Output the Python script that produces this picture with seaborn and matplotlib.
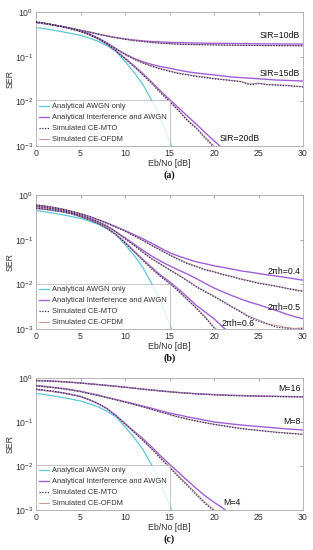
import numpy as np
import pandas as pd
import matplotlib
matplotlib.use("Agg")
import matplotlib.pyplot as plt
import seaborn as sns

# ---------------- data ----------------
ebno = list(range(0, 31))

awgn_only = [0.45, 0.42, 0.39, 0.36, 0.33, 0.30, 0.26, 0.22, 0.175, 0.13, 0.078,
             0.045, 0.024, 0.0105, 0.0042, 0.0013, 0.0004]

# panel (a): SIR
sir_labels = ["SIR=10dB", "SIR=15dB", "SIR=20dB"]
a_ana = [
    [0.58, 0.55, 0.51, 0.47, 0.43, 0.39, 0.355, 0.32, 0.29, 0.268, 0.25, 0.236, 0.226, 0.218,
     0.213, 0.209, 0.206, 0.204, 0.202, 0.200, 0.199, 0.198, 0.197, 0.196, 0.195, 0.194,
     0.193, 0.193, 0.192, 0.192, 0.191],
    [0.58, 0.55, 0.51, 0.47, 0.42, 0.37, 0.32, 0.26, 0.20, 0.15, 0.115, 0.092, 0.077, 0.067,
     0.060, 0.055, 0.050, 0.046, 0.043, 0.041, 0.039, 0.037, 0.035, 0.034, 0.033, 0.032,
     0.031, 0.030, 0.0295, 0.029, 0.0285],
    [0.58, 0.55, 0.51, 0.47, 0.42, 0.37, 0.31, 0.25, 0.19, 0.135, 0.093, 0.063, 0.042,
     0.027, 0.017, 0.011, 0.0072, 0.0047, 0.0031, 0.0020, 0.0013, 0.00088, 0.0006],
]
a_mto = [
    [0.60, 0.56, 0.51, 0.47, 0.43, 0.39, 0.355, 0.32, 0.29, 0.265, 0.245, 0.23, 0.218, 0.208,
     0.200, 0.195, 0.190, 0.188, 0.186, 0.184, 0.183, 0.181, 0.181, 0.179, 0.179, 0.178,
     0.177, 0.177, 0.176, 0.176, 0.175],
    [0.60, 0.56, 0.51, 0.47, 0.42, 0.37, 0.32, 0.26, 0.20, 0.15, 0.112, 0.088, 0.072, 0.061,
     0.053, 0.047, 0.042, 0.039, 0.036, 0.034, 0.032, 0.0305, 0.029, 0.0275, 0.0235, 0.025,
     0.0235, 0.023, 0.0225, 0.0218, 0.021],
    [0.60, 0.56, 0.51, 0.47, 0.42, 0.37, 0.31, 0.25, 0.19, 0.133, 0.09, 0.06, 0.039, 0.025,
     0.0155, 0.0098, 0.0062, 0.0037, 0.0025, 0.0015, 0.00095, 0.0006],
]
a_ofdm = [
    [0.59, 0.55, 0.51, 0.47, 0.43, 0.39, 0.354, 0.32, 0.29, 0.266, 0.246, 0.231, 0.219, 0.209,
     0.201, 0.196, 0.191, 0.189, 0.187, 0.185, 0.184, 0.182, 0.181, 0.180, 0.179, 0.178,
     0.178, 0.177, 0.177, 0.176, 0.176],
    [0.59, 0.55, 0.51, 0.47, 0.42, 0.37, 0.32, 0.26, 0.20, 0.151, 0.113, 0.089, 0.073, 0.062,
     0.054, 0.048, 0.043, 0.040, 0.037, 0.035, 0.0325, 0.031, 0.0295, 0.028, 0.0245, 0.0255,
     0.024, 0.0235, 0.023, 0.022, 0.0215],
    [0.59, 0.55, 0.51, 0.47, 0.42, 0.37, 0.31, 0.25, 0.19, 0.134, 0.091, 0.061, 0.04, 0.026,
     0.016, 0.0102, 0.0064, 0.0039, 0.0026, 0.0016, 0.001, 0.00065],
]

# panel (b): 2*pi*h
h_labels = ["2\u03c0h=0.4", "2\u03c0h=0.5", "2\u03c0h=0.6"]
b_ana = [
    [0.59, 0.56, 0.52, 0.48, 0.43, 0.38, 0.33, 0.28, 0.235, 0.195, 0.16, 0.13, 0.105, 0.083,
     0.065, 0.051, 0.043, 0.037, 0.032, 0.029, 0.026, 0.024, 0.022, 0.020, 0.0188, 0.0175,
     0.0163, 0.0153, 0.0143, 0.0133, 0.0124],
    [0.55, 0.52, 0.49, 0.45, 0.40, 0.35, 0.30, 0.25, 0.20, 0.15, 0.11, 0.08, 0.058, 0.043,
     0.033, 0.026, 0.021, 0.017, 0.0135, 0.0105, 0.0083, 0.0068, 0.0056, 0.0047, 0.004,
     0.0035, 0.003, 0.0026, 0.0022, 0.0019, 0.0017],
    [0.50, 0.48, 0.45, 0.42, 0.38, 0.33, 0.28, 0.23, 0.18, 0.13, 0.088, 0.056, 0.036, 0.024,
     0.016, 0.0115, 0.0078, 0.0052, 0.0034, 0.0024, 0.0017, 0.0011, 0.00075],
]
b_mto = [
    [0.60, 0.57, 0.53, 0.48, 0.43, 0.38, 0.33, 0.28, 0.232, 0.19, 0.155, 0.122, 0.096, 0.074,
     0.058, 0.045, 0.036, 0.029, 0.025, 0.021, 0.019, 0.0165, 0.0148, 0.013, 0.0118, 0.0105,
     0.0098, 0.009, 0.0082, 0.0075, 0.0069],
    [0.56, 0.53, 0.49, 0.45, 0.40, 0.35, 0.30, 0.25, 0.20, 0.148, 0.105, 0.075, 0.052, 0.037,
     0.028, 0.021, 0.016, 0.012, 0.0088, 0.0068, 0.0053, 0.0041, 0.0031, 0.0024, 0.0018,
     0.0015, 0.0013, 0.0011, 0.00105, 0.00098, 0.00102],
    [0.51, 0.48, 0.45, 0.42, 0.38, 0.33, 0.28, 0.23, 0.178, 0.128, 0.085, 0.054, 0.034, 0.022,
     0.0148, 0.0105, 0.007, 0.0045, 0.0029, 0.0018, 0.00105, 0.0007],
]
b_ofdm = [
    [0.59, 0.56, 0.52, 0.48, 0.43, 0.38, 0.33, 0.28, 0.233, 0.191, 0.156, 0.123, 0.097, 0.075,
     0.059, 0.046, 0.037, 0.030, 0.0255, 0.0215, 0.0192, 0.0168, 0.015, 0.0133, 0.012, 0.0108,
     0.0099, 0.0092, 0.0083, 0.0077, 0.0071],
    [0.55, 0.52, 0.49, 0.45, 0.40, 0.35, 0.30, 0.25, 0.20, 0.149, 0.106, 0.076, 0.053, 0.038,
     0.0285, 0.0215, 0.0163, 0.0123, 0.009, 0.007, 0.0055, 0.0042, 0.0032, 0.0025, 0.0019,
     0.0016, 0.0013, 0.0012, 0.0011, 0.00103, 0.00106],
    [0.50, 0.48, 0.45, 0.42, 0.38, 0.33, 0.28, 0.23, 0.179, 0.129, 0.086, 0.055, 0.035, 0.023,
     0.0152, 0.0108, 0.0072, 0.0047, 0.003, 0.0019, 0.0011, 0.00072],
]

# panel (c): modulation order
m_labels = ["M=16", "M=8", "M=4"]
c_ana = [
    [0.88, 0.865, 0.85, 0.825, 0.80, 0.77, 0.74, 0.71, 0.68, 0.65, 0.62, 0.59, 0.56, 0.535,
     0.51, 0.49, 0.47, 0.455, 0.44, 0.43, 0.42, 0.412, 0.405, 0.40, 0.395, 0.39, 0.386,
     0.383, 0.38, 0.378, 0.376],
    [0.68, 0.65, 0.61, 0.58, 0.54, 0.50, 0.45, 0.41, 0.36, 0.325, 0.29, 0.26, 0.23, 0.205,
     0.18, 0.16, 0.145, 0.131, 0.12, 0.11, 0.10, 0.095, 0.09, 0.086, 0.082, 0.079, 0.076,
     0.073, 0.07, 0.068, 0.066],
    [0.55, 0.52, 0.49, 0.46, 0.42, 0.38, 0.32, 0.26, 0.20, 0.14, 0.093, 0.062, 0.042, 0.027,
     0.017, 0.011, 0.0072, 0.0047, 0.0031, 0.0021, 0.0015, 0.0011, 0.00075],
]
c_mto = [
    [0.87, 0.855, 0.84, 0.82, 0.795, 0.765, 0.735, 0.705, 0.675, 0.645, 0.615, 0.585, 0.555,
     0.53, 0.505, 0.485, 0.465, 0.45, 0.435, 0.425, 0.415, 0.407, 0.40, 0.395, 0.39, 0.385,
     0.382, 0.379, 0.376, 0.374, 0.372],
    [0.66, 0.63, 0.60, 0.57, 0.53, 0.49, 0.44, 0.40, 0.355, 0.318, 0.283, 0.25, 0.22, 0.193,
     0.168, 0.148, 0.13, 0.116, 0.105, 0.096, 0.088, 0.082, 0.076, 0.071, 0.067, 0.064,
     0.061, 0.058, 0.056, 0.054, 0.052],
    [0.56, 0.53, 0.50, 0.46, 0.42, 0.38, 0.32, 0.26, 0.20, 0.138, 0.09, 0.059, 0.038, 0.024,
     0.0148, 0.0092, 0.0057, 0.0036, 0.0022, 0.0014, 0.00095, 0.0006],
]
c_ofdm = [
    [0.87, 0.856, 0.842, 0.821, 0.797, 0.767, 0.737, 0.707, 0.677, 0.647, 0.617, 0.587, 0.557,
     0.532, 0.507, 0.487, 0.467, 0.452, 0.437, 0.427, 0.417, 0.409, 0.402, 0.397, 0.392,
     0.387, 0.384, 0.381, 0.378, 0.376, 0.374],
    [0.66, 0.63, 0.60, 0.57, 0.53, 0.49, 0.44, 0.40, 0.356, 0.319, 0.284, 0.251, 0.221, 0.194,
     0.169, 0.149, 0.131, 0.117, 0.106, 0.097, 0.089, 0.083, 0.077, 0.072, 0.068, 0.065,
     0.062, 0.059, 0.057, 0.055, 0.053],
    [0.55, 0.52, 0.49, 0.46, 0.42, 0.38, 0.32, 0.26, 0.20, 0.139, 0.091, 0.06, 0.039, 0.025,
     0.0155, 0.0097, 0.006, 0.0038, 0.0024, 0.0015, 0.001, 0.00065],
]

captions = ["(a)", "(b)", "(c)"]
legend_names = ["Analytical AWGN only", "Analytical Interference and AWGN",
                "Simulated CE-MTO", "Simulated CE-OFDM"]

# label positions (x, y, ha) per panel
label_pos = [
    [(29.7, 0.24, "right"), (29.7, 0.034, "right"), (20.6, 0.00115, "left")],
    [(29.7, 0.0152, "right"), (29.7, 0.0024, "right"), (20.9, 0.00105, "left")],
    [(29.7, 0.45, "right"), (29.7, 0.08, "right"), (21.0, 0.00115, "left")],
]

# ---------------- style ----------------
sns.set_style("white")
plt.rcParams["font.family"] = ["Liberation Sans", "DejaVu Sans"]
plt.rcParams["mathtext.fontset"] = "custom"
plt.rcParams["mathtext.rm"] = "Liberation Sans"

C_AWGN = "#5cc8dc"
C_INT = "#a05fd8"
C_MTO = "#2b2b80"
C_OFDM = "#c9968a"
TXT = "#333333"
FS = 5.4
TFS = 6.3

fig = plt.figure(figsize=(3.13, 5.5), dpi=100)
W, H = 313, 550
boxes = [(12, 146), (195, 329), (378, 510)]
left, right = 36, 303

panels = [(a_ana, a_mto, a_ofdm, sir_labels),
          (b_ana, b_mto, b_ofdm, h_labels),
          (c_ana, c_mto, c_ofdm, m_labels)]


def series(vals):
    return pd.DataFrame({"x": ebno[:len(vals)], "y": vals})


for i, (ana, mto, ofdm, labs) in enumerate(panels):
    top, bot = boxes[i]
    ax = fig.add_axes([left / W, 1 - bot / H, (right - left) / W, (bot - top) / H])
    d = series(awgn_only)
    sns.lineplot(data=d, x="x", y="y", ax=ax, color=C_AWGN, lw=0.9, label=legend_names[0])
    for k in range(3):
        sns.lineplot(data=series(ana[k]), x="x", y="y", ax=ax, color=C_INT, lw=1.0,
                     label=legend_names[1] if k == 0 else None)
    for k in range(3):
        sns.lineplot(data=series(ofdm[k]), x="x", y="y", ax=ax, color=C_OFDM, lw=0.7,
                     label=legend_names[3] if k == 0 else None, zorder=3)
    for k in range(3):
        sns.lineplot(data=series(mto[k]), x="x", y="y", ax=ax, color=C_MTO, lw=0.9,
                     linestyle=(0, (1, 1.2)),
                     label=legend_names[2] if k == 0 else None, zorder=4)
    ax.set_yscale("log")
    ax.set_xlim(0, 30)
    ax.set_ylim(1e-3, 1)
    ax.set_xticks([0, 5, 10, 15, 20, 25, 30])
    ax.set_yticks([1e-3, 1e-2, 1e-1, 1])
    ax.yaxis.set_minor_locator(matplotlib.ticker.NullLocator())
    ax.tick_params(axis="both", which="both", direction="in", length=2, width=0.5,
                   labelsize=TFS, colors="#888888", labelcolor=TXT, top=True, right=True,
                   pad=2)
    for s in ax.spines.values():
        s.set_color("#aaaaaa")
        s.set_linewidth(0.6)
    ax.set_xlabel("Eb/No [dB]", fontsize=TFS, color=TXT, labelpad=1)
    ax.set_ylabel("SER", fontsize=TFS, color=TXT, labelpad=0)
    for (lx, ly, ha), t in zip(label_pos[i], labs):
        ax.text(lx, ly, t, fontsize=TFS, color="#111111", ha=ha, va="bottom")
    # legend in desired order
    handles, labels = ax.get_legend_handles_labels()
    order = [labels.index(n) for n in legend_names]
    leg = ax.legend([handles[j] for j in order], [labels[j] for j in order],
                    loc="lower left", fontsize=FS, frameon=True, fancybox=False,
                    borderaxespad=0.0, handlelength=1.4, handletextpad=0.4,
                    labelspacing=0.5, borderpad=0.35, edgecolor="#aaaaaa")
    leg.get_frame().set_linewidth(0.6)
    for t in leg.get_texts():
        t.set_color(TXT)
    fig.text((left + right) / 2 / W, 1 - (bot + 29) / H, captions[i], ha="center",
             va="center", fontsize=7.2, fontweight="bold",
             family=["Liberation Serif", "DejaVu Serif"], color="#111111")

fig.savefig("out.png", dpi=100)
